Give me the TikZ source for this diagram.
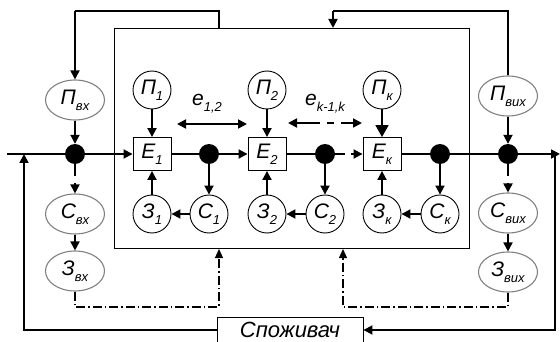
\documentclass[tikz,border=0pt]{standalone}
\usepackage{fontspec}
\setmainfont{Liberation Sans}
\usetikzlibrary{arrows.meta,shapes.geometric}
\newcommand\lsub[1]{\raisebox{-0.3em}{\fontsize{13}{13}\selectfont #1}}
\begin{document}
\begin{tikzpicture}[x=1pt,y=-1pt,
  lab/.style={font=\fontsize{21}{23}\selectfont\itshape},
  circ/.style={circle,draw,line width=0.9pt,minimum size=38pt,inner sep=0pt,lab},
  ell/.style={ellipse,draw=black!50,line width=1.1pt,minimum width=59pt,minimum height=40pt,inner sep=0pt,lab},
  ebox/.style={rectangle,draw,line width=0.9pt,minimum width=38pt,minimum height=33pt,inner sep=0pt,lab},
  dotn/.style={circle,fill,inner sep=0pt,minimum size=20pt},
  mline/.style={line width=1.8pt},
  arr/.style={line width=1.8pt,-{Triangle[length=9pt,width=9pt]}},
  bigarr/.style={line width=1.8pt,-{Triangle[length=12pt,width=13pt]}},
  darr/.style={line width=1.8pt,{Triangle[length=9pt,width=9pt]}-{Triangle[length=9pt,width=9pt]}},
  thinl/.style={line width=1.1pt},
  dd/.style={line width=1.1pt,dash pattern=on 9pt off 3pt on 1.5pt off 3pt},
  ddarr/.style={dd,-{Triangle[length=9pt,width=8pt]}}
]
\useasboundingbox (0,0) rectangle (560,342);
% frame
\node[draw,line width=0.9pt,minimum width=355pt,minimum height=220pt,inner sep=0pt] (frame) at (291.5,138) {};
% dots
\node[dotn] (d1) at (75,154) {};
\node[dotn] (d2) at (209,154) {};
\node[dotn] (d3) at (325,154) {};
\node[dotn] (d4) at (440,154) {};
\node[dotn] (d5) at (508,154) {};
% E boxes
\node[ebox] (E1) at (152,154) {E\lsub{1}};
\node[ebox] (E2) at (267,154) {E\lsub{2}};
\node[ebox] (Ek) at (382,154) {E\lsub{к}};
% top circles
\node[circ] (P1) at (152,90) {П\lsub{1}};
\node[circ] (P2) at (267,90) {П\lsub{2}};
\node[circ] (Pk) at (382,90) {П\lsub{к}};
% bottom circles
\node[circ] (Z1) at (152,214) {З\lsub{1}};
\node[circ] (C1) at (209,214) {С\lsub{1}};
\node[circ] (Z2) at (267,214) {З\lsub{2}};
\node[circ] (C2) at (325,214) {С\lsub{2}};
\node[circ] (Zk) at (382,214) {З\lsub{к}};
\node[circ] (Ck) at (440,214) {С\lsub{к}};
% ellipses
\node[ell] (Pin) at (75,100) {П\lsub{вх}};
\node[ell] (Cin) at (75,214) {С\lsub{вх}};
\node[ell] (Zin) at (75,271) {З\lsub{вх}};
\node[ell] (Pout) at (508,96) {П\lsub{вих}};
\node[ell] (Cout) at (508,213) {С\lsub{вих}};
\node[ell] (Zout) at (508,272) {З\lsub{вих}};
% consumer
\node[draw,line width=0.9pt,minimum width=146pt,minimum height=26pt,inner sep=0pt,text height=15pt,text depth=0pt,font=\fontsize{22}{24}\selectfont\itshape] (cons) at (290,330) {Споживач};
% coordinates
\coordinate (ms) at (7,154);
\coordinate (me) at (560,154);
\coordinate (rv) at (555,154);
\coordinate (lf) at (24,154);
\coordinate (g1) at (345,154);
\coordinate (g2) at (351,154);
\coordinate (c1a) at (75,176);
\coordinate (c1b) at (75,183);
\coordinate (c5a) at (508,176);
\coordinate (c5b) at (508,183);
\coordinate (tl1) at (75,11);
\coordinate (tl2) at (219,11);
\coordinate (tl3) at (219,28);
\coordinate (tr1) at (508,11);
\coordinate (tr2) at (333,11);
\coordinate (tr3) at (333,28);
\coordinate (bl1) at (75,307);
\coordinate (bl2) at (219,307);
\coordinate (bl3) at (219,249);
\coordinate (br1) at (508,307);
\coordinate (br2) at (343,307);
\coordinate (br3) at (343,249);
\coordinate (ea) at (177,124);
\coordinate (eb) at (247,124);
\coordinate (ka) at (288,123);
\coordinate (kb) at (320,123);
\coordinate (kc) at (327,123);
\coordinate (kd) at (334,123);
\coordinate (ke) at (341,123);
\coordinate (kf) at (362,123);
% main line
\draw[mline] (ms) -- (d1);
\draw[arr] (d1) -- (E1);
\draw[mline] (E1) -- (d2);
\draw[arr] (d2) -- (E2);
\draw[mline] (E2) -- (d3);
\draw[mline] (d3) -- (g1);
\draw[arr] (g2) -- (Ek);
\draw[mline] (Ek) -- (d4) -- (d5);
\draw[arr] (d5) -- (me);
\draw[arr] (rv) |- (cons.east);
\draw[arr] (cons.west) -| (lf);
% internal arrows
\draw[arr] (P1) -- (E1);
\draw[arr] (P2) -- (E2);
\draw[bigarr] (Pk) -- (Ek);
\draw[arr] (Z1) -- (E1);
\draw[arr] (Z2) -- (E2);
\draw[arr] (Zk) -- (Ek);
\draw[arr] (d2) -- (C1);
\draw[arr] (d3) -- (C2);
\draw[arr] (d4) -- (Ck);
\draw[arr] (C1) -- (Z1);
\draw[arr] (C2) -- (Z2);
\draw[arr] (Ck) -- (Zk);
% input / output columns
\draw[thinl] (tl3) -- (tl2) -- (tl1);
\draw[arr] (tl1) -- (Pin);
\draw[arr] (Pin) -- (d1);
\draw[mline] (d1) -- (c1a);
\draw[arr] (c1b) -- (Cin);
\draw[arr] (Cin) -- (Zin);
\draw[thinl] (Pout) -- (tr1) -- (tr2);
\draw[arr] (tr2) -- (tr3);
\draw[arr] (Pout) -- (d5);
\draw[mline] (d5) -- (c5a);
\draw[arr] (c5b) -- (Cout);
\draw[arr] (Cout) -- (Zout);
% dash-dot feedback
\draw[ddarr] (Zin.south) -- (bl1) -- (bl2) -- (bl3);
\draw[ddarr] (Zout.south) -- (br1) -- (br2) -- (br3);
% e arrows
\draw[darr] (ea) -- (eb);
\node[lab] (e12) at (207,104) {e\lsub{1,2}};
\draw[line width=1.8pt,{Triangle[length=9pt,width=9pt]}-] (ka) -- (kb);
\draw[line width=1.8pt] (kc) -- (kd);
\draw[arr] (ke) -- (kf);
\node[lab] (ek) at (325,104) {e\lsub{k-1,k}};
\end{tikzpicture}
\end{document}
